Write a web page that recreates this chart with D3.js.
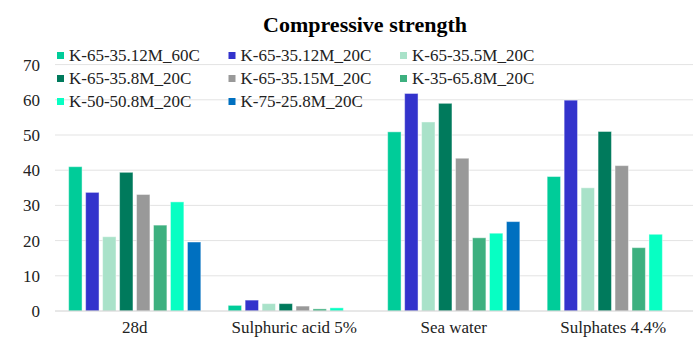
<!DOCTYPE html>
<html><head><meta charset="utf-8">
<script src="https://cdn.jsdelivr.net/npm/d3@7/dist/d3.min.js"></script>
<style>html,body{margin:0;padding:0;background:#fff;}svg{display:block;}
svg text{font-family:"Liberation Serif","Tinos","Times New Roman","DejaVu Serif",serif;}</style>
</head><body>
<svg id="chart" width="697" height="338"></svg>
<script>
const categories = ["28d", "Sulphuric acid 5%", "Sea water", "Sulphates 4.4%"];
const seriesNames = ["K-65-35.12M_60C", "K-65-35.12M_20C", "K-65-35.5M_20C", "K-65-35.8M_20C",
  "K-65-35.15M_20C", "K-35-65.8M_20C", "K-50-50.8M_20C", "K-75-25.8M_20C"];
const seriesColors = ["#00CC99", "#3333CC", "#A9E2C9", "#007A5C", "#999999", "#3DB07F", "#07FFC3", "#0070C0"];
const s1 = [41.0, 1.6, 50.9, 38.2];
const s2 = [33.7, 3.1, 61.8, 59.9];
const s3 = [21.1, 2.1, 53.7, 35.0];
const s4 = [39.4, 2.1, 59.0, 51.0];
const s5 = [33.1, 1.4, 43.4, 41.3];
const s6 = [24.4, 0.6, 20.8, 18.0];
const s7 = [31.0, 0.9, 22.1, 21.8];
const s8 = [19.6, 0, 25.4, 0];
const seriesValues = [s1, s2, s3, s4, s5, s6, s7, s8];
const yTicks = [0, 10, 20, 30, 40, 50, 60, 70];

(function () {
const svg = d3.select("#chart");
const pL = 55, pR = 693, pT = 64.6, pB = 311;

const x0 = d3.scaleBand().domain(categories).range([pL, pR]).paddingInner(0.15).paddingOuter(0.075);
const x1 = d3.scaleBand().domain(d3.range(seriesNames.length)).range([0, x0.bandwidth()]).paddingInner(0.21).paddingOuter(0.1);
const y = d3.scaleLinear().domain([0, 70]).range([pB, pT]);

svg.append("g").selectAll("line").data(yTicks.filter(d => d > 0)).join("line")
  .attr("x1", pL).attr("x2", pR)
  .attr("y1", d => y(d)).attr("y2", d => y(d))
  .attr("stroke", "#e3e3e3").attr("stroke-width", 1);

svg.append("g").selectAll("text").data(yTicks).join("text")
  .attr("x", 40).attr("y", d => y(d)).attr("dy", "0.35em")
  .attr("text-anchor", "end").attr("font-size", 17).attr("fill", "#222")
  .text(d => d);

const groups = svg.append("g").selectAll("g").data(categories).join("g")
  .attr("transform", c => `translate(${x0(c)},0)`);
groups.selectAll("rect").data((c, ci) => seriesValues.map((vals, si) => ({si, v: vals[ci]})).filter(d => d.v > 0))
  .join("rect")
  .attr("x", d => x1(d.si)).attr("width", x1.bandwidth())
  .attr("y", d => y(d.v)).attr("height", d => y(0) - y(d.v))
  .attr("fill", d => seriesColors[d.si])
  .attr("stroke", "rgba(255,255,255,0.45)").attr("stroke-width", 1);

svg.append("line").attr("x1", pL).attr("x2", pR).attr("y1", y(0)).attr("y2", y(0))
  .attr("stroke", "#d0d0d0").attr("stroke-width", 1);

svg.append("g").selectAll("text").data(categories).join("text")
  .attr("x", c => x0(c) + x0.bandwidth() / 2).attr("y", 333)
  .attr("text-anchor", "middle").attr("font-size", 17).attr("fill", "#222")
  .text(c => c);

svg.append("text").attr("x", 365).attr("y", 32).attr("text-anchor", "middle")
  .attr("font-size", 22).attr("font-weight", "bold").attr("fill", "#000")
  .text("Compressive strength");

const legend = svg.append("g").selectAll("g").data(seriesNames).join("g")
  .attr("transform", (d, i) => `translate(${57 + (i % 3) * 171.5},${55.5 + Math.floor(i / 3) * 23})`);
legend.append("rect").attr("x", 0).attr("y", -3.5).attr("width", 7).attr("height", 7)
  .attr("fill", (d, i) => seriesColors[i]);
legend.append("text").attr("x", 12).attr("y", 0).attr("dy", "0.35em")
  .attr("font-size", 17).attr("fill", "#222").text(d => d);
})();
</script>
</body></html>
